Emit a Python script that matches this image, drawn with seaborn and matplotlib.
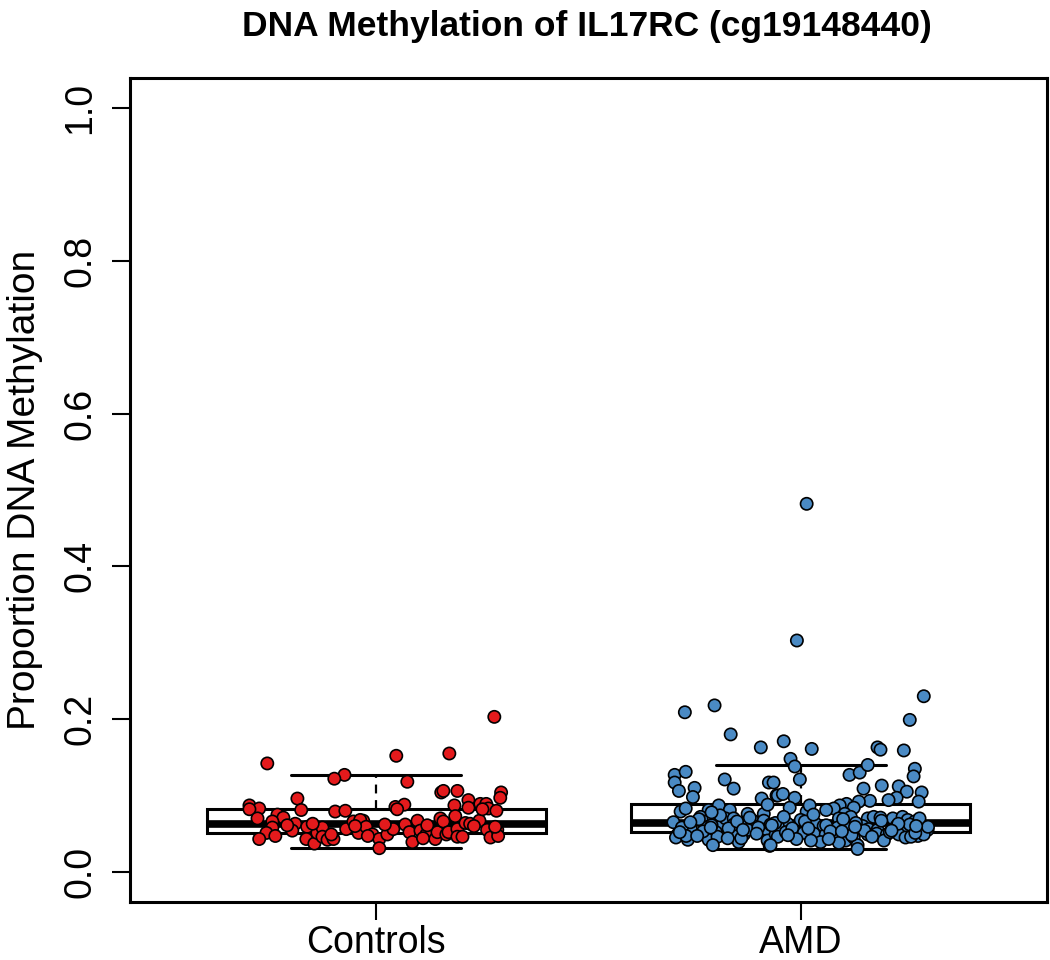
#! /usr/bin/env python3
'''
Boxplot + jittered points of DNA methylation (IL17RC, cg19148440), Controls vs AMD
'''
import matplotlib
matplotlib.use('Agg')
import matplotlib.pyplot as plt
import pandas as pd
import seaborn as sns

groups = ['Controls', 'AMD']
colors = {'Controls': '#E41A1C', 'AMD': '#4A8AC4'}

# proportion methylated, with the horizontal jitter of each point
controls_values = [0.142, 0.203, 0.152, 0.155, 0.127, 0.122, 0.118, 0.104, 0.106, 0.106,
                   0.104, 0.097, 0.094, 0.084, 0.089, 0.089, 0.083, 0.080, 0.085, 0.088,
                   0.082, 0.087, 0.073, 0.096, 0.081, 0.079, 0.080, 0.087, 0.083, 0.082,
                   0.070, 0.075, 0.071, 0.066, 0.058, 0.051, 0.047, 0.043, 0.063, 0.054,
                   0.059, 0.043, 0.037, 0.051, 0.058, 0.046, 0.042, 0.043, 0.049, 0.056,
                   0.066, 0.051, 0.067, 0.068, 0.059, 0.049, 0.043, 0.031, 0.049, 0.056,
                   0.062, 0.052, 0.039, 0.067, 0.054, 0.049, 0.043, 0.052, 0.070, 0.066,
                   0.049, 0.052, 0.056, 0.046, 0.046, 0.064, 0.063, 0.067, 0.055, 0.045,
                   0.055, 0.047, 0.059, 0.061, 0.060, 0.062, 0.061, 0.060, 0.063, 0.044,
                   0.047, 0.082]
controls_jitter = [-0.257, 0.278, 0.047, 0.172, -0.075, -0.099, 0.073, 0.153, 0.158, 0.191,
                   0.294, 0.292, 0.217, 0.217, 0.245, 0.259, 0.264, 0.283, 0.045, 0.066,
                   0.049, 0.184, 0.186, -0.186, -0.177, -0.097, -0.073, -0.299, -0.276, -0.299,
                   -0.280, -0.233, -0.219, -0.245, -0.245, -0.259, -0.238, -0.276, -0.191, -0.198,
                   -0.163, -0.165, -0.146, -0.139, -0.127, -0.127, -0.115, -0.101, -0.106, -0.071,
                   -0.054, -0.042, -0.031, -0.038, -0.024, -0.009, 0.007, 0.007, 0.026, 0.040,
                   0.068, 0.078, 0.085, 0.097, 0.104, 0.118, 0.139, 0.144, 0.151, 0.158,
                   0.165, 0.170, 0.191, 0.191, 0.203, 0.210, 0.221, 0.243, 0.261, 0.269,
                   0.285, 0.287, 0.280, -0.210, -0.050, 0.020, 0.120, 0.230, -0.150, 0.110,
                   -0.020, 0.250]

amd_values = [0.482, 0.303, 0.209, 0.218, 0.180, 0.163, 0.127, 0.131, 0.117, 0.106,
              0.110, 0.098, 0.121, 0.109, 0.117, 0.117, 0.096, 0.100, 0.079, 0.083,
              0.081, 0.087, 0.081, 0.072, 0.066, 0.070, 0.063, 0.070, 0.070, 0.076,
              0.067, 0.076, 0.088, 0.067, 0.056, 0.059, 0.052, 0.049, 0.045, 0.042,
              0.042, 0.046, 0.050, 0.062, 0.060, 0.049, 0.039, 0.055, 0.052, 0.056,
              0.062, 0.041, 0.034, 0.049, 0.062, 0.035,
              0.171, 0.161, 0.148, 0.138, 0.121, 0.100, 0.102, 0.097, 0.084, 0.079,
              0.087, 0.163, 0.160, 0.159, 0.199, 0.230, 0.127, 0.130, 0.140, 0.135,
              0.125, 0.109, 0.113, 0.112, 0.105, 0.104, 0.097, 0.094, 0.092, 0.093,
              0.092, 0.089, 0.087, 0.083, 0.084, 0.076, 0.068, 0.063, 0.060, 0.063,
              0.060, 0.070, 0.072, 0.070, 0.072, 0.071, 0.070, 0.072, 0.068, 0.066,
              0.058, 0.059, 0.060, 0.056, 0.055, 0.060, 0.056, 0.062, 0.056, 0.055,
              0.046, 0.052, 0.054, 0.051, 0.050, 0.049, 0.039, 0.041, 0.042, 0.041,
              0.045, 0.035, 0.030, 0.049, 0.050, 0.049, 0.049, 0.045, 0.047, 0.049,
              0.041, 0.035,
              0.065, 0.058, 0.047, 0.069, 0.053, 0.061, 0.074, 0.057, 0.066, 0.044,
              0.071, 0.058, 0.064, 0.072, 0.057, 0.066, 0.075, 0.061, 0.053, 0.069,
              0.048, 0.064, 0.054, 0.067, 0.052, 0.063, 0.046, 0.070, 0.059, 0.051,
              0.078, 0.081, 0.043, 0.038, 0.065,
              0.052, 0.047, 0.058, 0.044, 0.055, 0.050, 0.061, 0.048, 0.057, 0.043,
              0.053, 0.059, 0.046, 0.054, 0.060]
amd_jitter = [0.014, -0.009, -0.273, -0.203, -0.165, -0.094, -0.297, -0.271, -0.297, -0.287,
              -0.250, -0.254, -0.179, -0.158, -0.075, -0.064, -0.092, -0.057, -0.283, -0.271,
              -0.217, -0.193, -0.167, -0.236, -0.229, -0.205, -0.184, -0.177, -0.158, -0.125,
              -0.113, -0.087, -0.078, -0.087, -0.259, -0.219, -0.200, -0.290, -0.294, -0.266,
              -0.217, -0.196, -0.160, -0.141, -0.111, -0.134, -0.146, -0.125, -0.099, -0.082,
              -0.071, -0.078, -0.073, -0.059, -0.158, -0.207,
              -0.040, 0.026, -0.024, -0.014, -0.002, -0.054, -0.042, -0.014, -0.026, 0.014,
              0.021, 0.181, 0.188, 0.243, 0.257, 0.290, 0.115, 0.139, 0.158, 0.269,
              0.266, 0.148, 0.191, 0.231, 0.250, 0.285, 0.226, 0.207, 0.278, 0.163,
              0.137, 0.108, 0.092, 0.078, 0.125, 0.104, 0.000, -0.031, -0.054, 0.035,
              0.054, 0.090, 0.118, 0.158, 0.172, 0.188, 0.217, 0.240, 0.252, 0.269,
              0.087, 0.111, 0.146, 0.160, 0.181, 0.226, 0.243, 0.257, 0.283, 0.299,
              -0.054, -0.035, -0.016, 0.007, 0.031, 0.059, 0.047, 0.024, 0.087, 0.106,
              0.125, 0.134, 0.134, 0.158, 0.179, 0.203, 0.231, 0.247, 0.276, 0.290,
              0.196, -0.071,
              -0.300, -0.280, -0.270, -0.240, -0.230, -0.210, -0.190, -0.170, -0.150, -0.140,
              -0.120, -0.100, -0.060, -0.040, -0.020, 0.010, 0.030, 0.060, 0.070, 0.100,
              0.120, 0.130, 0.150, 0.190, 0.210, 0.230, 0.260, 0.280, 0.300, 0.270,
              -0.210, 0.060, -0.010, 0.090, -0.260,
              -0.285, -0.244, -0.212, -0.172, -0.136, -0.104, -0.068, -0.030, 0.018, 0.066,
              0.097, 0.128, 0.168, 0.214, 0.272]

yticks = [0.0, 0.2, 0.4, 0.6, 0.8, 1.0]

if __name__ == "__main__":
    # long-form table
    df = pd.DataFrame({
        'group': ['Controls'] * len(controls_values) + ['AMD'] * len(amd_values),
        'value': controls_values + amd_values,
        'jitter': controls_jitter + amd_jitter,
    })
    df['xpos'] = df['group'].map({g: i for i, g in enumerate(groups)}) + df['jitter']

    sns.set_style('white')
    plt.rcParams['font.family'] = ['Liberation Sans', 'DejaVu Sans']
    plt.rcParams['text.color'] = 'black'
    plt.rcParams['axes.labelcolor'] = 'black'
    plt.rcParams['xtick.color'] = 'black'
    plt.rcParams['ytick.color'] = 'black'

    fig = plt.figure(figsize=(10.5, 9.6), dpi=100)
    ax = fig.add_axes([0.124, 0.060, 0.873, 0.859])

    # R-like boxplot: white boxes, dashed whiskers, thick median
    sns.boxplot(data=df, x='group', y='value', order=groups, ax=ax, width=0.8,
                color='white', linecolor='black', linewidth=2.2, showfliers=False,
                whis=1.5,
                whiskerprops={'linestyle': (0, (4, 3)), 'linewidth': 1.6},
                capprops={'linewidth': 2.2},
                medianprops={'linewidth': 5.5, 'color': 'black'})

    # jittered points on top
    sns.scatterplot(data=df, x='xpos', y='value', hue='group', palette=colors,
                    edgecolor='black', linewidth=1.2, s=78, legend=False, ax=ax, zorder=5)

    ax.set_xlim(-0.58, 1.58)
    ax.set_ylim(-0.04, 1.04)
    ax.set_xticks(range(len(groups)))
    ax.set_xticklabels(groups, fontsize=27)
    ax.set_yticks(yticks)
    ax.set_yticklabels(['%.1f' % t for t in yticks], fontsize=27, rotation=90, va='center')
    ax.tick_params(axis='both', direction='out', length=13, width=1.5, color='black',
                   labelcolor='black', left=True, bottom=True)
    ax.tick_params(axis='x', pad=3)
    ax.tick_params(axis='y', pad=10)
    ax.set_xlabel('')
    ax.set_ylabel('Proportion DNA Methylation', fontsize=28, labelpad=14)
    for s in ax.spines.values():
        s.set_visible(True)
        s.set_color('black')
        s.set_linewidth(2.2)

    fig.suptitle('DNA Methylation of IL17RC (cg19148440)', fontsize=25.5, fontweight='bold',
                 x=0.559, y=0.972, va='center')

    fig.savefig('out.png', dpi=100, facecolor='white')
